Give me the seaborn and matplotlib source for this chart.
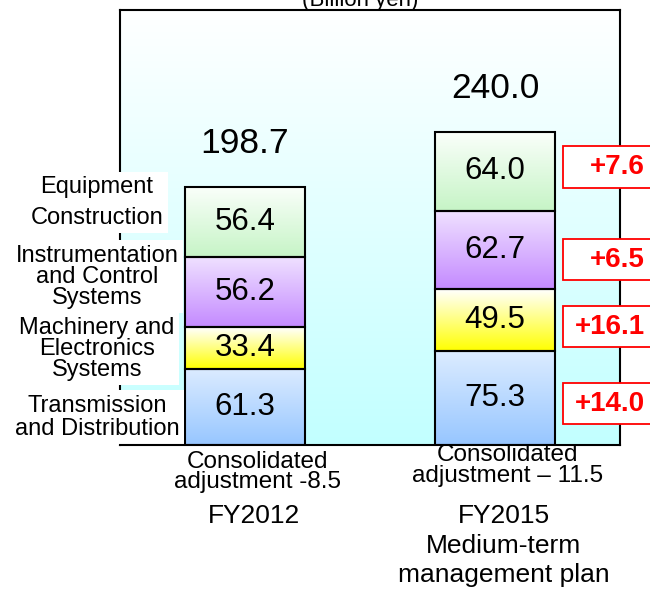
import numpy as np
import pandas as pd
import matplotlib
matplotlib.use("Agg")
import matplotlib.pyplot as plt
import seaborn as sns
from matplotlib.colors import LinearSegmentedColormap
from matplotlib.transforms import blended_transform_factory, offset_copy
import matplotlib.patches as mpatches

# ---------------- data ----------------
years = ["FY2012", "FY2015"]
year_labels = ["FY2012", "FY2015\nMedium-term\nmanagement plan"]
segments = ["Transmission and Distribution", "Machinery and Electronics Systems",
            "Instrumentation and Control Systems", "Equipment Construction"]
segment_labels = ["Transmission\nand Distribution", "Machinery and\nElectronics\nSystems",
                  "Instrumentation\nand Control\nSystems", "Equipment\nConstruction"]
fy2012 = [61.3, 33.4, 56.2, 56.4]
fy2015 = [75.3, 49.5, 62.7, 64.0]
totals = [198.7, 240.0]
adjustments = ["Consolidated\nadjustment -8.5", "Consolidated\nadjustment \u2013 11.5"]
increases = ["+14.0", "+16.1", "+6.5", "+7.6"]
unit_label = "(Billion yen)"

# ---------------- styling (layout only) ----------------
seg_colors = [("#dcecff", "#97c6ff"),   # blue
              ("#ffffff", "#ffff00"),   # yellow
              ("#f0e2ff", "#c48aff"),   # purple
              ("#fbfffb", "#c6f4c6")]   # green
left_label_y = [22, 77, 135, 194.5]       # data units, label centres
delta_box_y = [33, 94.8, 148.6, 223]      # data units, box centres
left_linespacing = [1.1, 0.95, 0.95, 1.5]

sns.set_theme(style="white")
plt.rcParams["font.family"] = ["Liberation Sans", "DejaVu Sans"]
plt.rcParams["text.color"] = "black"
plt.rcParams["xtick.color"] = "black"
plt.rcParams["xtick.labelcolor"] = "black"

fig = plt.figure(figsize=(6.5, 5.9), dpi=100)
W, H = 650, 590
ax = fig.add_axes([120 / W, (590 - 445) / H, 500 / W, 435 / H])
ax.set_facecolor("white")

# background gradient
bg = LinearSegmentedColormap.from_list("bg", ["#c2ffff", "#ffffff"])
ax.imshow(np.linspace(0, 1, 256).reshape(-1, 1), cmap=bg, origin="lower",
          extent=[0, 1, 0, 1], transform=ax.transAxes, aspect="auto", zorder=0)

# data frame
df = pd.DataFrame({
    "year": np.repeat(years, len(segments)),
    "segment": segments * len(years),
    "value": fy2012 + fy2015,
})
df["bottom"] = df.groupby("year")["value"].cumsum() - df["value"]

for i, seg in enumerate(segments):
    sub = df[df["segment"] == seg].set_index("year").loc[years].reset_index()
    n0 = len(ax.patches)
    sns.barplot(data=sub, x="year", y="value", order=years, bottom=sub["bottom"].values,
                width=0.48, color=seg_colors[i][1], errorbar=None, ax=ax)
    new = ax.patches[n0:]
    for p, v in zip(new, sub["value"].values):
        p.set_facecolor("none")
        p.set_edgecolor("black")
        p.set_linewidth(1.5)
        p.set_zorder(3)
        cm = LinearSegmentedColormap.from_list("s%d" % i, [seg_colors[i][1], seg_colors[i][0]])
        x0, y0, w, h = p.get_x(), p.get_y(), p.get_width(), p.get_height()
        im = ax.imshow(np.linspace(0, 1, 256).reshape(-1, 1), cmap=cm, origin="lower",
                       extent=[x0, x0 + w, y0, y0 + h], aspect="auto", zorder=2)
        im.set_clip_path(p)
        ax.text(x0 + w / 2, y0 + h / 2, f"{v:.1f}", ha="center", va="center",
                fontsize=22.5, color="black", zorder=4)

ax.set_xlim(-0.5, 1.5)
ax.set_ylim(0, 349)

# totals above bars
tops = df.groupby("year")["value"].sum().loc[years].values
for j, (t, top) in enumerate(zip(totals, tops)):
    ax.annotate(f"{t:.1f}", xy=(j, top), xytext=(0, 24), textcoords="offset points",
                ha="center", va="baseline", fontsize=25.5, color="black", zorder=4)

# x tick labels
ax.set_xticks(range(len(years)))
ax.set_xticklabels(year_labels, fontsize=19, linespacing=1.3, color="black")
ax.set_xlabel("")
ax.set_ylabel("")
ax.set_yticks([])
ax.tick_params(axis="x", length=0, pad=42.5)
for lab in ax.get_xticklabels():
    lab.set_transform(offset_copy(lab.get_transform(), fig=fig, x=9, y=0, units="dots"))

# consolidated adjustment notes
adj_dy = [-27, -20.5]
for j, txt in enumerate(adjustments):
    tr = offset_copy(blended_transform_factory(ax.transData, ax.transAxes), fig=fig,
                     x=13, y=adj_dy[j], units="dots")
    ax.text(j, 0, txt, transform=tr, ha="center", va="center", fontsize=17.5,
            linespacing=0.92, clip_on=False, color="black")

# spines
for name, s in ax.spines.items():
    s.set_visible(True)
    s.set_color("black")
    s.set_linewidth(1.5)
    s.set_zorder(8 if name == "bottom" else 5)

# left segment labels with white boxes
ltr = blended_transform_factory(ax.transAxes, ax.transData)
for i, lab in enumerate(segment_labels):
    ax.text(-0.046, left_label_y[i], lab, transform=ltr, ha="center", va="center",
            multialignment="center", fontsize=17, linespacing=left_linespacing[i],
            bbox=dict(facecolor="white", edgecolor="none", pad=3),
            clip_on=False, zorder=6, color="black")

# increase boxes on the right
for i, inc in enumerate(increases):
    rect = mpatches.Rectangle((0.886, delta_box_y[i] - 16.5), 0.2, 33, transform=ltr,
                              facecolor="white", edgecolor="#ff0000", linewidth=1.3,
                              clip_on=False, zorder=6)
    ax.add_patch(rect)
    ax.text(1.05, delta_box_y[i], inc, transform=ltr, ha="right", va="center",
            fontsize=20, fontweight="bold", color="#ff0000", clip_on=False, zorder=7)

fig.text(360 / W, 1 - 6 / H, unit_label, ha="center", va="baseline", fontsize=16,
         color="black")

fig.savefig("out.png", dpi=100)
